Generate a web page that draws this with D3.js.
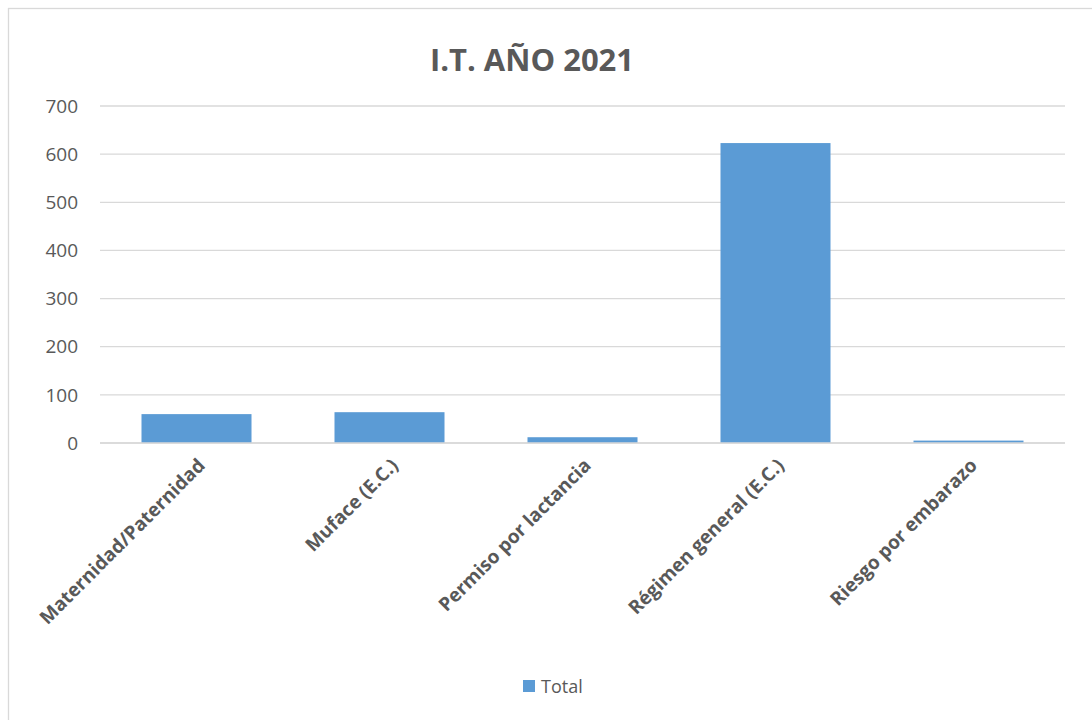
<!DOCTYPE html>
<meta charset="utf-8">
<style>
body { margin: 0; background: #fff; }
svg text { font-family: "Open Sans", Lato, sans-serif; fill: #595959; }
.grid line { stroke: #d9d9d9; stroke-width: 1.3px; }
</style>
<svg width="1092" height="720"></svg>
<script src="https://cdn.jsdelivr.net/npm/d3@7"></script>
<script>

var categories = ["Maternidad/Paternidad", "Muface (E.C.)", "Permiso por lactancia", "Régimen general (E.C.)", "Riesgo por embarazo"];
var totals = [60, 64, 12, 623, 5];
var yTicks = [0, 100, 200, 300, 400, 500, 600, 700];

var svg = d3.select("svg"),
    margin = {top: 106, right: 27, bottom: 277, left: 100},
    width = +svg.attr("width") - margin.left - margin.right,
    height = +svg.attr("height") - margin.top - margin.bottom;

// chart frame (right and bottom edges fall off the page)
svg.append("rect")
    .attr("x", 8.5).attr("y", 8.5)
    .attr("width", 1100).attr("height", 730)
    .attr("fill", "none")
    .attr("stroke", "#d9d9d9")
    .attr("stroke-width", 1.3);

var g = svg.append("g").attr("transform", "translate(" + margin.left + "," + margin.top + ")");

var x = d3.scaleBand()
    .domain(categories)
    .range([0, width])
    .paddingInner(0.43)
    .paddingOuter(0.215);

var y = d3.scaleLinear()
    .domain([0, 700])
    .range([height, 0]);

g.append("g")
    .attr("class", "grid")
  .selectAll("line")
  .data(yTicks)
  .enter().append("line")
    .attr("x1", 0)
    .attr("x2", width)
    .attr("y1", function(d) { return y(d); })
    .attr("y2", function(d) { return y(d); });

g.append("g")
  .selectAll("text")
  .data(yTicks)
  .enter().append("text")
    .attr("x", -22)
    .attr("y", function(d) { return y(d); })
    .attr("dy", "0.35em")
    .attr("text-anchor", "end")
    .style("font-size", "19px")
    .text(function(d) { return d; });

g.append("g")
  .selectAll("rect")
  .data(totals)
  .enter().append("rect")
    .attr("x", function(d, i) { return x(categories[i]); })
    .attr("y", function(d) { return y(d); })
    .attr("width", x.bandwidth())
    .attr("height", function(d) { return height - y(d); })
    .attr("fill", "#5b9bd5");

// baseline drawn on top of bars
g.append("line")
    .attr("x1", 0).attr("x2", width)
    .attr("y1", y(0)).attr("y2", y(0))
    .attr("stroke", "#d9d9d9")
    .attr("stroke-width", 1.3);

g.append("g")
  .selectAll("text")
  .data(categories)
  .enter().append("text")
    .attr("transform", function(d) {
      return "translate(" + (x(d) + x.bandwidth() / 2 + 5) + "," + (height + 19) + ") rotate(-45)";
    })
    .attr("text-anchor", "end")
    .attr("dy", "0.35em")
    .style("font-size", "19px")
    .style("font-weight", "bold")
    .text(function(d) { return d; });

svg.append("text")
    .attr("x", 532)
    .attr("y", 71)
    .attr("text-anchor", "middle")
    .style("font-size", "31px")
    .style("font-weight", "bold")
    .text("I.T. AÑO 2021");

var legend = svg.append("g").attr("transform", "translate(523,680)");
legend.append("rect")
    .attr("width", 12).attr("height", 12)
    .attr("fill", "#5b9bd5");
legend.append("text")
    .attr("x", 18)
    .attr("y", 13)
    .style("font-size", "18px")
    .text("Total");

</script>
